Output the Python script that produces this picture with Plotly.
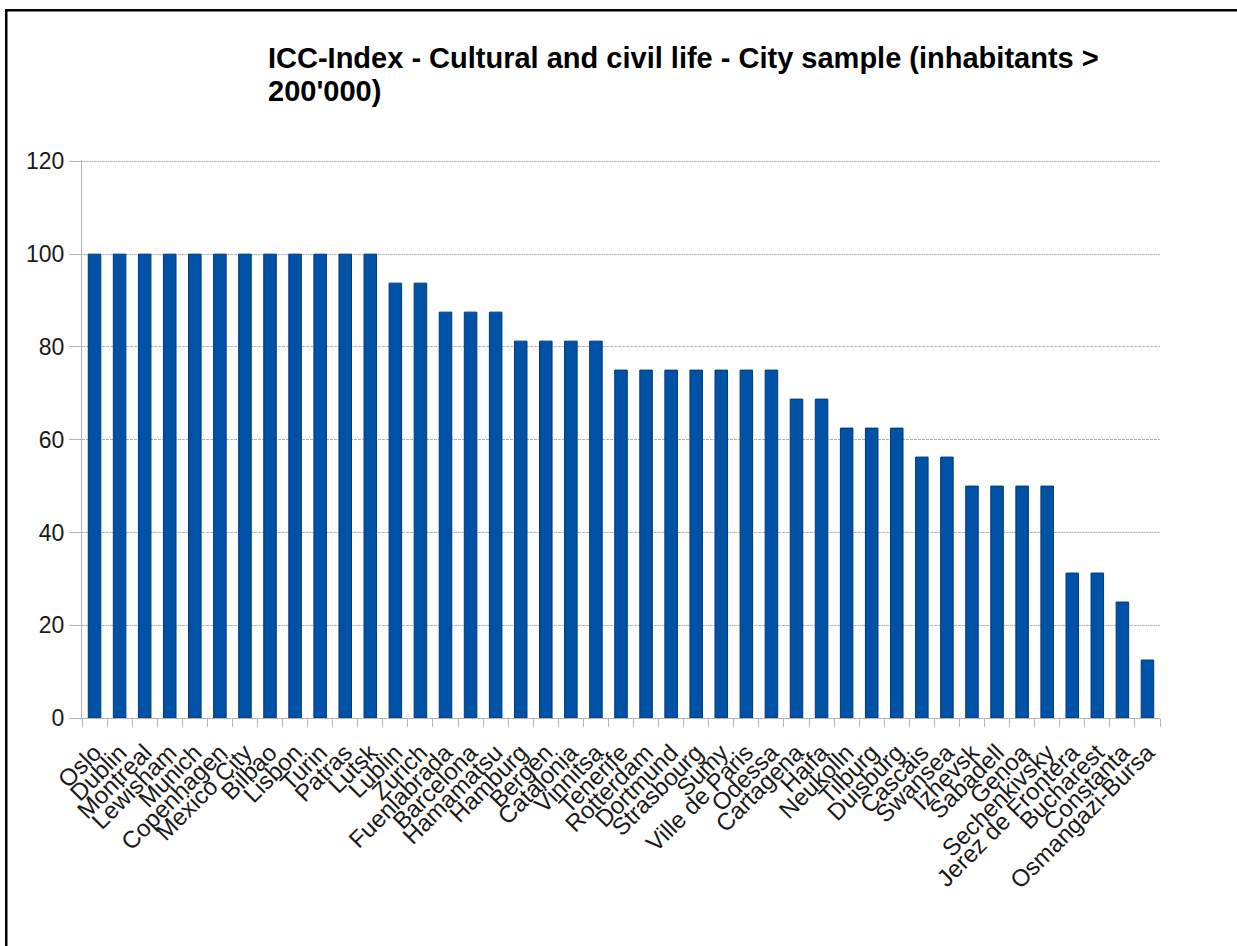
import plotly.graph_objects as go

# ICC-Index, cultural and civil life scores per city (inhabitants > 200'000)
cities = [
    "Oslo", "Dublin", "Montreal", "Lewisham", "Munich", "Copenhagen",
    "Mexico City", "Bilbao", "Lisbon", "Turin", "Patras", "Lutsk",
    "Lublin", "Zurich", "Fuenlabrada", "Barcelona", "Hamamatsu",
    "Hamburg", "Bergen", "Catalonia", "Vinnitsa", "Tenerife", "Rotterdam",
    "Dortmund", "Strasbourg", "Sumy", "Ville de Paris", "Odessa",
    "Cartagena", "Haifa", "Neukolln", "Tilburg", "Duisburg", "Cascais",
    "Swansea", "Izhevsk", "Sabadell", "Genoa", "Sechenkivsky",
    "Jerez de Frontera", "Bucharest", "Constanta", "Osmangazi-Bursa",
]
scores = [
    100, 100, 100, 100, 100, 100,
    100, 100, 100, 100, 100, 100,
    93.75, 93.75, 87.5, 87.5, 87.5,
    81.25, 81.25, 81.25, 81.25, 75, 75,
    75, 75, 75, 75, 75,
    68.75, 68.75, 62.5, 62.5, 62.5, 56.25,
    56.25, 50, 50, 50, 50,
    31.25, 31.25, 25, 12.5,
]
y_ticks = [0, 20, 40, 60, 80, 100, 120]

title_lines = ["ICC-Index - Cultural and civil life - City sample (inhabitants >", "200'000)"]

W, H = 1237, 946
L, R, T, B = 82, 77, 160, 228
plot_w = W - L - R
plot_h = H - T - B


def px_x(px):
    """Pixel column -> paper x."""
    return (px - L) / plot_w


def px_y(py):
    """Pixel row (from top) -> paper y."""
    return (H - B - py) / plot_h


fig = go.Figure(
    go.Bar(
        x=cities,
        y=scores,
        marker=dict(color="#0052a6", line=dict(color="#00397a", width=1)),
        width=0.5,
    )
)

grid_col = "#b3b3b3"
fig.update_layout(
    width=W,
    height=H,
    margin=dict(l=L, r=R, t=T, b=B, pad=0),
    paper_bgcolor="white",
    plot_bgcolor="white",
    showlegend=False,
    font=dict(family="Liberation Sans, Arial, sans-serif", color="#1a1a1a"),
    bargap=0.5,
)
fig.update_xaxes(
    type="category",
    tickmode="array",
    tickvals=cities,
    ticktext=cities,
    tickangle=-45,
    tickfont=dict(size=24, color="#1a1a1a"),
    ticks="outside",
    tickson="boundaries",
    ticklen=8,
    tickcolor=grid_col,
    ticklabelstandoff=10,
    showline=True,
    linecolor=grid_col,
    linewidth=1,
    showgrid=False,
    range=[-0.5, len(cities) - 0.5],
)
fig.update_yaxes(
    range=[0, 120.3],
    tickvals=y_ticks,
    tickfont=dict(size=23, color="#1a1a1a"),
    ticks="outside",
    ticklen=12,
    tickcolor=grid_col,
    showline=True,
    linecolor=grid_col,
    linewidth=1,
    showgrid=True,
    gridcolor=grid_col,
    griddash="3px,1px",
    gridwidth=1,
    zeroline=False,
)

# Two-line bold title, left-aligned above the plot area
for text, yc in zip(title_lines, [58, 91]):
    fig.add_annotation(
        xref="paper", yref="paper",
        x=px_x(266), y=px_y(yc),
        xanchor="left", yanchor="middle", align="left",
        text=f"<b>{text}</b>",
        showarrow=False,
        font=dict(size=29, color="black", family="Liberation Sans, Arial, sans-serif"),
    )

# Page frame along the top and left edges, drawn as thin filled bars
frame_bars = [
    (5, 9, W, 11.5),   # top
    (5, 9, 7.5, H),    # left
]
for x0, y0, x1, y1 in frame_bars:
    fig.add_shape(
        type="rect", xref="paper", yref="paper",
        x0=px_x(x0), x1=px_x(x1), y0=px_y(y0), y1=px_y(y1),
        fillcolor="black", line=dict(width=0),
    )

fig.write_html("out.html")
